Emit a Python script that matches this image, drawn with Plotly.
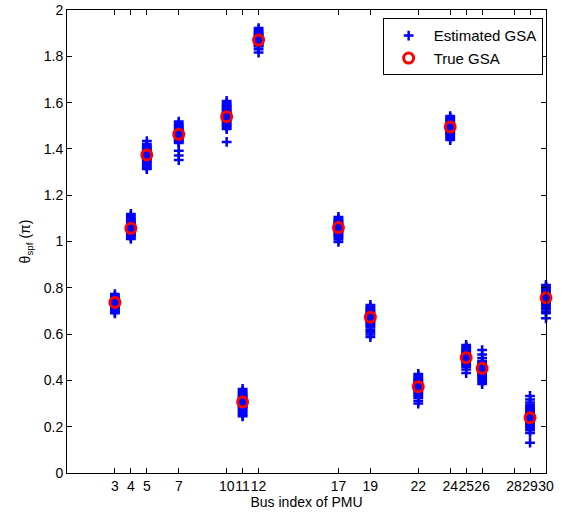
import plotly.graph_objects as go

buses = [3, 4, 5, 7, 10, 11, 12, 17, 19, 22, 24, 25, 26, 29, 30]
tick_vals = [3, 4, 5, 7, 10, 11, 12, 17, 19, 22, 24, 25, 26, 28, 29, 30]
y_ticks = [0, 0.2, 0.4, 0.6, 0.8, 1, 1.2, 1.4, 1.6, 1.8, 2]
y_tick_labels = ["0", "0.2", "0.4", "0.6", "0.8", "1", "1.2", "1.4", "1.6", "1.8", "2"]

true_gsa = [0.737, 1.057, 1.374, 1.463, 1.539, 0.307, 1.870, 1.060, 0.673,
            0.373, 1.495, 0.498, 0.452, 0.239, 0.757]

est3 = [0.773, 0.765, 0.760, 0.756, 0.752, 0.748, 0.745, 0.742, 0.739, 0.736, 0.733,
        0.730, 0.727, 0.723, 0.719, 0.715, 0.711, 0.706, 0.701, 0.695, 0.690]
est4 = [1.119, 1.110, 1.102, 1.096, 1.090, 1.084, 1.079, 1.074, 1.069, 1.065, 1.061,
        1.057, 1.053, 1.049, 1.045, 1.040, 1.035, 1.030, 1.024, 1.018, 1.011]
est5 = [1.434, 1.421, 1.414, 1.408, 1.402, 1.397, 1.392, 1.387, 1.383, 1.379, 1.375,
        1.371, 1.367, 1.362, 1.357, 1.352, 1.346, 1.340, 1.333, 1.325, 1.318, 1.313]
est7 = [1.518, 1.510, 1.503, 1.497, 1.491, 1.486, 1.481, 1.476, 1.471, 1.466, 1.461,
        1.456, 1.451, 1.446, 1.441, 1.436, 1.431, 1.425, 1.392, 1.372, 1.352]
est10 = [1.607, 1.598, 1.591, 1.585, 1.579, 1.573, 1.567, 1.562, 1.557, 1.552, 1.547,
         1.542, 1.537, 1.532, 1.526, 1.520, 1.514, 1.507, 1.500, 1.493, 1.486, 1.430]
est11 = [0.363, 0.354, 0.347, 0.341, 0.335, 0.330, 0.325, 0.320, 0.316, 0.312, 0.308,
         0.304, 0.300, 0.296, 0.291, 0.286, 0.280, 0.274, 0.267, 0.259, 0.251, 0.245]
est12 = [1.922, 1.914, 1.907, 1.901, 1.896, 1.891, 1.886, 1.881, 1.877, 1.873, 1.869,
         1.865, 1.861, 1.857, 1.852, 1.847, 1.842, 1.830, 1.816]
est17 = [1.106, 1.098, 1.092, 1.087, 1.082, 1.078, 1.074, 1.070, 1.066, 1.062, 1.058,
         1.054, 1.050, 1.046, 1.041, 1.036, 1.030, 1.024, 1.017, 1.009, 0.998]
est19 = [0.726, 0.718, 0.711, 0.705, 0.699, 0.694, 0.689, 0.684, 0.679, 0.675, 0.671,
         0.667, 0.663, 0.658, 0.653, 0.648, 0.642, 0.636, 0.628, 0.618, 0.608, 0.598, 0.587]
est22 = [0.428, 0.420, 0.413, 0.407, 0.401, 0.396, 0.391, 0.386, 0.382, 0.378, 0.374,
         0.370, 0.366, 0.362, 0.357, 0.352, 0.346, 0.340, 0.333, 0.325, 0.312, 0.300]
est24 = [1.542, 1.535, 1.529, 1.523, 1.518, 1.513, 1.508, 1.504, 1.500, 1.496, 1.492,
         1.488, 1.484, 1.480, 1.475, 1.470, 1.465, 1.459, 1.452, 1.445, 1.438]
est25 = [0.553, 0.545, 0.539, 0.533, 0.528, 0.523, 0.518, 0.514, 0.510, 0.506, 0.502,
         0.498, 0.494, 0.490, 0.485, 0.480, 0.474, 0.467, 0.459, 0.447, 0.432]
est26 = [0.531, 0.512, 0.497, 0.484, 0.476, 0.470, 0.465, 0.460, 0.456, 0.452, 0.448,
         0.444, 0.440, 0.435, 0.430, 0.424, 0.418, 0.411, 0.403, 0.394, 0.384]
est29 = [0.333, 0.318, 0.304, 0.294, 0.285, 0.277, 0.270, 0.263, 0.257, 0.251, 0.246,
         0.241, 0.236, 0.231, 0.225, 0.219, 0.212, 0.204, 0.195, 0.185, 0.173, 0.131]
est30 = [0.812, 0.804, 0.797, 0.790, 0.784, 0.778, 0.773, 0.768, 0.763, 0.758, 0.753,
         0.748, 0.743, 0.737, 0.731, 0.724, 0.716, 0.707, 0.698, 0.690, 0.668]

estimates = [est3, est4, est5, est7, est10, est11, est12, est17, est19, est22,
             est24, est25, est26, est29, est30]

ex, ey = [], []
for b, vals in zip(buses, estimates):
    ex.extend([b] * len(vals))
    ey.extend(vals)

FONT = "Liberation Sans, Arial, Helvetica, sans-serif"

fig = go.Figure()
fig.add_trace(go.Scatter(
    x=ex, y=ey, mode="markers", name="Estimated GSA", cliponaxis=False,
    marker=dict(symbol="cross-thin", size=7, color="#0000ff",
                line=dict(color="#0000ff", width=2.5)),
))
fig.add_trace(go.Scatter(
    x=buses, y=true_gsa, mode="markers", name="True GSA", cliponaxis=False,
    marker=dict(symbol="circle-open", size=10, color="#ff0000",
                line=dict(color="#ff0000", width=3)),
))

axis_common = dict(
    showline=True, linecolor="black", linewidth=1, mirror="ticks",
    ticks="inside", ticklen=5, tickcolor="black", tickwidth=1,
    showgrid=False, zeroline=False, automargin=False,
    tickfont=dict(family=FONT, size=14, color="black"),
)

fig.update_layout(
    width=562, height=516,
    margin=dict(l=67, r=16, t=10, b=43),
    paper_bgcolor="white", plot_bgcolor="white",
    font=dict(family=FONT, size=14, color="black"),
    xaxis=dict(range=[0, 30], tickmode="array", tickvals=tick_vals,
               ticktext=[str(v) for v in tick_vals], tickangle=0,
               title=dict(text="Bus index of PMU", standoff=2,
                          font=dict(family=FONT, size=14)),
               **axis_common),
    yaxis=dict(range=[0, 2], tickmode="array", tickvals=y_ticks,
               ticktext=y_tick_labels,
               title=dict(text="θ<sub>spf</sub> (π)", standoff=9,
                          font=dict(family=FONT, size=14)),
               **axis_common),
    legend=dict(x=0.993, y=0.982, xanchor="right", yanchor="top",
                bordercolor="black", borderwidth=1, bgcolor="white",
                font=dict(family=FONT, size=15), itemwidth=40,
                tracegroupgap=0),
    showlegend=True,
)

fig.write_html("out.html")
